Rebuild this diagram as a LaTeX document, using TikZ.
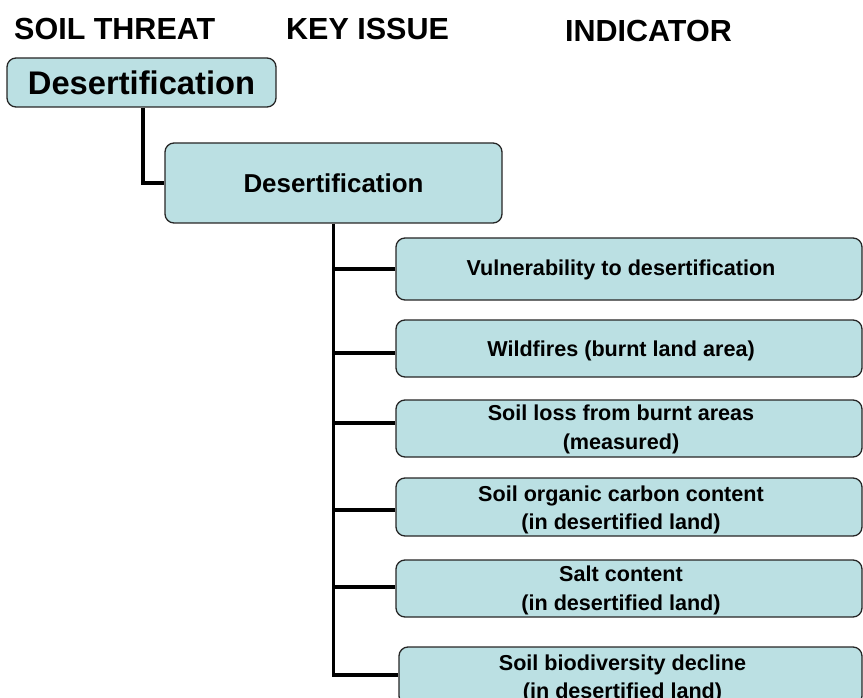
\documentclass[tikz,border=0pt]{standalone}
\usepackage{fontspec}
\setmainfont{Liberation Sans}
\definecolor{boxfill}{RGB}{187,224,227}
\begin{document}
\begin{tikzpicture}[x=1pt,y=-1pt,
  box/.style={draw=black!85, line width=1.3pt, fill=boxfill, rounded corners=9pt, inner sep=0pt},
  conn/.style={line width=3.8pt},
  hdr/.style={anchor=base west, inner sep=0pt, font=\fontsize{30.5}{36}\selectfont\bfseries},
  ind/.style={inner sep=0pt, align=center, font=\fontsize{21.6}{28.5}\selectfont\bfseries}]
\useasboundingbox (0,0) rectangle (863,698);

% headers
\node[hdr] (h1) at (14,40) {SOIL THREAT};
\node[hdr] (h2) at (286,40) {KEY ISSUE};
\node[hdr] (h3) at (565,42) {INDICATOR};

% boxes
\node[box, minimum width=269pt, minimum height=49pt, font=\fontsize{32.7}{38}\selectfont\bfseries] (top) at (141.5,82.5) {Desertification};
\node[box, minimum width=337pt, minimum height=80pt, font=\fontsize{25.9}{30}\selectfont\bfseries] (key) at (333.5,183) {Desertification};

\node[box, minimum width=466pt, minimum height=62pt] (i1) at (629,269) {};
\node[box, minimum width=466pt, minimum height=57pt] (i2) at (629,348.5) {};
\node[box, minimum width=466pt, minimum height=57pt] (i3) at (629,428.5) {};
\node[box, minimum width=466pt, minimum height=58pt] (i4) at (629,507) {};
\node[box, minimum width=466pt, minimum height=57pt] (i5) at (629,588.5) {};
\node[box, minimum width=463pt, minimum height=58pt] (i6) at (630.5,676) {};

\node[ind] (t1) at ([xshift=-8pt,yshift=-1pt]i1.center) {Vulnerability to desertification};
\node[ind] (t2) at ([xshift=-8pt,yshift=-2pt]i2.center) {Wildfires (burnt land area)};
\node[ind] (t3) at ([xshift=-8pt,yshift=-1pt]i3.center) {Soil loss from burnt areas\\(measured)};
\node[ind] (t4) at ([xshift=-8pt,yshift=-3pt]i4.center) {Soil organic carbon content\\(in desertified land)};
\node[ind] (t5) at ([xshift=-8pt,yshift=-2pt]i5.center) {Salt content\\(in desertified land)};
\node[ind] (t6) at ([xshift=-8pt,yshift=-3pt]i6.center) {Soil biodiversity decline\\(in desertified land)};

% connectors
\draw[conn] ([xshift=1.5pt]top.south) |- (key.west);
\draw[conn] (key.south) |- ([yshift=1pt]i6.west);
\draw[conn] (i1.west) -| (key.south);
\draw[conn] ([yshift=-4.5pt]i2.west) -| (key.south);
\draw[conn] ([yshift=5.5pt]i3.west) -| (key.south);
\draw[conn] ([yshift=-3pt]i4.west) -| (key.south);
\draw[conn] ([yshift=1.5pt]i5.west) -| (key.south);
\end{tikzpicture}
\end{document}
